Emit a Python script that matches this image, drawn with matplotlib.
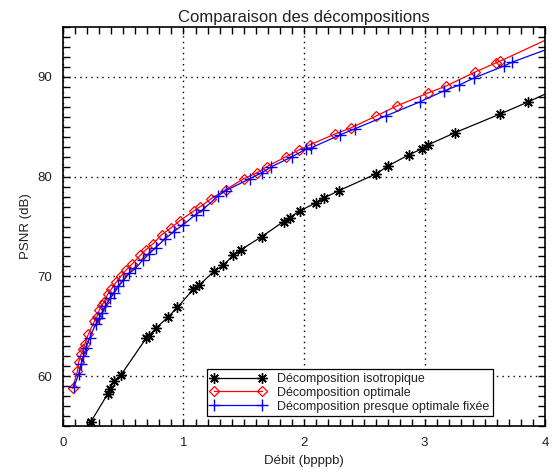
import matplotlib
matplotlib.use("Agg")
import matplotlib.pyplot as plt
from matplotlib.ticker import MultipleLocator

plt.rcParams['font.family'] = ['Liberation Sans', 'DejaVu Sans']

# Isotropic decomposition
iso_x = [0.23, 0.37, 0.39, 0.42, 0.48, 0.69, 0.71, 0.77, 0.87, 0.95, 1.08, 1.13,
         1.25, 1.33, 1.41, 1.48, 1.65, 1.83, 1.88, 1.97, 2.10, 2.17, 2.29, 2.60,
         2.70, 2.87, 2.98, 3.03, 3.25, 3.63, 3.86, 4.20]
iso_y = [55.4, 58.2, 58.7, 59.5, 60.1, 63.8, 64.0, 64.8, 65.9, 66.9, 68.7, 69.1,
         70.5, 71.1, 72.1, 72.7, 74.0, 75.5, 75.9, 76.6, 77.4, 77.9, 78.6, 80.3,
         81.1, 82.2, 82.8, 83.2, 84.4, 86.3, 87.5, 89.4]

# Optimal decomposition
opt_x = [0.08, 0.12, 0.13, 0.15, 0.17, 0.18, 0.21, 0.26, 0.28, 0.30, 0.32, 0.34,
         0.37, 0.40, 0.44, 0.48, 0.52, 0.57, 0.64, 0.69, 0.75, 0.82, 0.90, 0.97,
         1.09, 1.14, 1.23, 1.35, 1.50, 1.61, 1.69, 1.85, 1.96, 2.05, 2.26, 2.39,
         2.60, 2.77, 3.03, 3.18, 3.42, 3.59, 3.63, 4.20]
opt_y = [58.8, 60.5, 61.4, 62.2, 62.7, 63.2, 64.2, 65.5, 65.9, 66.6, 67.1, 67.4,
         68.2, 68.7, 69.4, 70.0, 70.6, 71.2, 72.1, 72.7, 73.3, 74.2, 74.9, 75.6,
         76.6, 77.0, 77.8, 78.7, 79.8, 80.4, 81.0, 82.0, 82.7, 83.2, 84.3, 84.9,
         86.1, 87.1, 88.4, 89.1, 90.5, 91.4, 91.6, 94.8]

# Near-optimal fixed decomposition
fix_x = [0.09, 0.13, 0.15, 0.17, 0.19, 0.22, 0.27, 0.30, 0.32, 0.35, 0.39, 0.42,
         0.46, 0.50, 0.55, 0.60, 0.66, 0.71, 0.77, 0.85, 0.92, 1.00, 1.10, 1.16,
         1.29, 1.35, 1.55, 1.65, 1.73, 1.90, 2.02, 2.06, 2.30, 2.42, 2.68, 2.96,
         3.16, 3.29, 3.41, 3.66, 3.73, 4.20]
fix_y = [58.9, 60.2, 61.2, 62.0, 62.8, 63.8, 65.2, 65.8, 66.3, 67.0, 67.8, 68.3,
         69.0, 69.6, 70.3, 70.8, 71.6, 72.2, 72.9, 73.8, 74.5, 75.2, 76.2, 76.7,
         78.1, 78.6, 79.8, 80.4, 81.0, 82.0, 82.8, 82.9, 84.2, 84.8, 86.1, 87.5,
         88.6, 89.2, 89.9, 91.1, 91.5, 93.6]

labels = ["Décomposition isotropique", "Décomposition optimale",
          "Décomposition presque optimale fixée"]

text_color = '#222222'

fig = plt.figure(figsize=(5.55, 4.76), dpi=100)
ax = fig.add_axes([0.1135, 0.105, 0.8685, 0.838])

ax.plot(iso_x, iso_y, color='black', lw=0.9, marker=(8, 2, 0), ms=7.5,
        mew=1.0, label=labels[0])
ax.plot(opt_x, opt_y, color='red', lw=0.9, marker='D', ms=5.5, mfc='none',
        mew=0.9, label=labels[1])
ax.plot(fix_x, fix_y, color='blue', lw=0.9, marker='+', ms=8,
        mew=1.0, label=labels[2])

ax.set_xlim(0, 4)
ax.set_ylim(55, 95)
ax.xaxis.set_major_locator(MultipleLocator(1))
ax.xaxis.set_minor_locator(MultipleLocator(0.1))
ax.yaxis.set_minor_locator(MultipleLocator(1))
ax.set_yticks([60, 70, 80, 90])
ax.tick_params(which='both', direction='in', top=True, right=True,
               labelsize=9.5, width=1.0, pad=8, labelcolor=text_color)
ax.tick_params(which='major', length=5)
ax.tick_params(which='minor', length=5)
ax.grid(True, which='major', linestyle=(0, (1, 3)), color='black', lw=1.0)
for s in ax.spines.values():
    s.set_linewidth(1.2)

ax.set_title("Comparaison des décompositions", fontsize=12, pad=4,
             color=text_color)
ax.set_xlabel("Débit (bpppb)", fontsize=9.5, color=text_color)
ax.set_ylabel("PSNR (dB)", fontsize=9.5, color=text_color)

leg = ax.legend(loc='lower left', bbox_to_anchor=(0.298, 0.024),
                fontsize=9, handlelength=4.4, borderpad=0.3,
                labelspacing=0.15, handletextpad=0.9, fancybox=False,
                framealpha=1, edgecolor='black', markerfirst=True,
                numpoints=2, borderaxespad=0)
leg.get_frame().set_linewidth(0.9)
for t in leg.get_texts():
    t.set_color(text_color)

fig.savefig("out.png", dpi=100)
